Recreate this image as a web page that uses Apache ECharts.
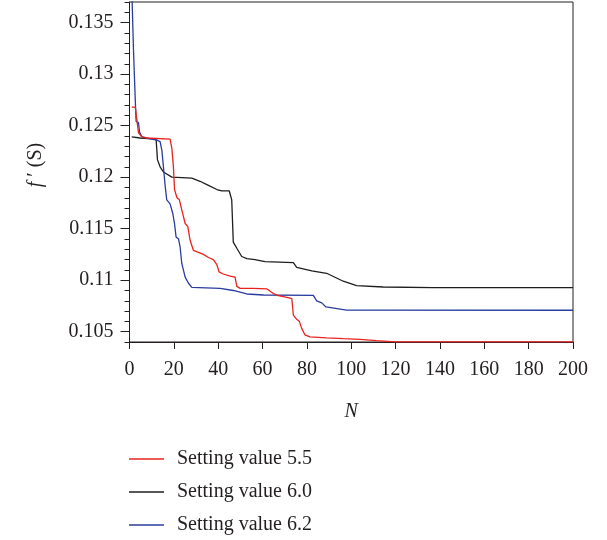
<!DOCTYPE html>
<html>
<head>
<meta charset="utf-8">
<script src="https://cdn.jsdelivr.net/npm/echarts@6/dist/echarts.min.js"></script>
<style>
html,body{margin:0;padding:0;background:#fff;}
#chart{width:607px;height:540px;}
</style>
</head>
<body>
<div id="chart"></div>
<script>
// ---- data ----
const seriesNames = ['Setting value 5.5', 'Setting value 6.0', 'Setting value 6.2'];
const red55 = [[1,0.1268],[2.6,0.1268],[3.3,0.1256],[4.05,0.1243],[5.6,0.1239],[7.8,0.1238],[18.3,0.1237],[19.1,0.1228],[19.8,0.1210],[20.3,0.1188],[21.4,0.1180],[22.5,0.1178],[23.6,0.1168],[25.1,0.1155],[26.3,0.1152],[27.3,0.1139],[28.8,0.1129],[31.1,0.1127],[33.3,0.1125],[35.6,0.1122],[37.8,0.1120],[39.4,0.1115],[40.4,0.1108],[42.3,0.1106],[45.4,0.1104],[47.6,0.1103],[48.4,0.1094],[49.9,0.1092],[55.9,0.1092],[62,0.10915],[64.9,0.1087],[67.1,0.1085],[71.6,0.1083],[73.2,0.1082],[73.9,0.1066],[75.4,0.1062],[76.6,0.1060],[77.7,0.1053],[79.1,0.1047],[81.4,0.1045],[88.9,0.1044],[96.4,0.10432],[103.9,0.10426],[111.4,0.10413],[120,0.10402],[200,0.10401]];
const black60 = [[1,0.1239],[4.8,0.1238],[12.0,0.1237],[12.6,0.1217],[13.8,0.1210],[15.3,0.1205],[19.1,0.1200],[28.1,0.1199],[31.8,0.1196],[35.6,0.1192],[39.4,0.1188],[41.6,0.11866],[45.0,0.11866],[46.1,0.1178],[46.8,0.1137],[48.4,0.1131],[50.6,0.1123],[52.9,0.1121],[56.6,0.1120],[61.1,0.1118],[73.9,0.1117],[75.4,0.11125],[82.2,0.1109],[88.9,0.11067],[96.4,0.1099],[102.4,0.10947],[114.4,0.10934],[136.9,0.10927],[200,0.10927]];
const blue62 = [[1,0.1385],[1.8,0.13235],[2.6,0.1275],[3.0,0.1254],[4.05,0.1253],[4.5,0.1244],[5.6,0.1239],[7.8,0.1238],[12.3,0.1236],[13.8,0.12345],[14.6,0.1226],[15.3,0.1210],[16.1,0.1191],[16.8,0.1178],[18.3,0.1174],[19.5,0.1165],[20.3,0.1155],[21.0,0.1142],[22.1,0.1140],[22.8,0.11325],[23.6,0.1116],[25.1,0.1103],[26.6,0.1097],[28.1,0.1093],[40.9,0.1092],[46.8,0.1090],[52.9,0.10866],[60.4,0.10856],[82.9,0.10853],[84.4,0.1080],[86.7,0.1078],[88.6,0.1074],[97.9,0.1071],[200,0.10708]];
const yMajorTicks = [0.105, 0.11, 0.115, 0.12, 0.125, 0.13, 0.135];
const yMinorTicks = [0.104,0.105,0.106,0.107,0.108,0.109,0.110,0.111,0.112,0.113,0.114,0.115,0.116,0.117,0.118,0.119,0.120,0.121,0.122,0.123,0.124,0.125,0.126,0.127,0.128,0.129,0.130,0.131,0.132,0.133,0.134,0.135,0.136,0.137];
const xTicks = [0, 20, 40, 60, 80, 100, 120, 140, 160, 180, 200];

const FONT = "'Liberation Serif', 'DejaVu Serif', serif";
const TXT = '#231f20';
const colors = ['#e8231e', '#1e1e1e', '#2a3c9f'];

const chart = echarts.init(document.getElementById('chart'), null, {renderer: 'canvas'});
chart.setOption({
  animation: false,
  backgroundColor: '#fff',
  color: colors,
  grid: {left: 129.5, right: 34, top: 2, bottom: 198, show: true, borderColor: '#231f20', borderWidth: 1, backgroundColor: 'transparent'},
  legend: {
    orient: 'vertical', left: 129, top: 449, padding: 0, height: 91,
    icon: 'rect', itemWidth: 35, itemHeight: 1.5, itemGap: 13,
    data: seriesNames,
    textStyle: {fontFamily: FONT, fontSize: 20, color: TXT, lineHeight: 20, padding: [0, 0, 0, 8]}
  },
  xAxis: {
    type: 'value', min: 0, max: 200, interval: 20,
    name: 'N', nameLocation: 'middle', nameGap: 60,
    nameTextStyle: {fontFamily: FONT, fontSize: 20, fontStyle: 'italic', color: TXT},
    axisLine: {lineStyle: {color: '#231f20', width: 1}},
    axisTick: {show: true, inside: false, length: 7, lineStyle: {color: '#231f20'}, customValues: xTicks},
    axisLabel: {fontFamily: FONT, fontSize: 20, color: TXT, margin: 18, customValues: xTicks},
    splitLine: {show: false}
  },
  yAxis: [{
    type: 'value', min: 0.104, max: 0.137,
    name: '{i|f}{n| ′ (S)}', nameLocation: 'middle', nameGap: 84,
    nameTextStyle: {fontFamily: FONT, fontSize: 20, color: TXT, padding: [0, 0, 0, 14],
      rich: {i: {fontFamily: FONT, fontSize: 20, fontStyle: 'italic', color: TXT}, n: {fontFamily: FONT, fontSize: 20, color: TXT}}},
    axisLine: {show: true, lineStyle: {color: '#231f20', width: 1}},
    axisTick: {show: true, inside: false, length: 5, lineStyle: {color: '#231f20'}, customValues: yMinorTicks},
    axisLabel: {show: false},
    splitLine: {show: false}
  }, {
    type: 'value', min: 0.104, max: 0.137, position: 'left', offset: 0,
    axisLine: {show: false},
    axisTick: {show: true, inside: false, length: 9, lineStyle: {color: '#231f20'}, customValues: yMajorTicks},
    axisLabel: {fontFamily: FONT, fontSize: 20, color: TXT, margin: 16, customValues: yMajorTicks,
      formatter: v => String(+v.toFixed(3))},
    splitLine: {show: false}
  }],
  series: [
    {name: seriesNames[0], type: 'line', data: red55, showSymbol: false, symbol: 'none', lineStyle: {width: 1.3, color: colors[0]}, itemStyle: {color: colors[0]}, clip: true, z: 3},
    {name: seriesNames[1], type: 'line', data: black60, showSymbol: false, symbol: 'none', lineStyle: {width: 1.3, color: colors[1]}, itemStyle: {color: colors[1]}, clip: true, z: 2},
    {name: seriesNames[2], type: 'line', data: blue62, showSymbol: false, symbol: 'none', lineStyle: {width: 1.3, color: colors[2]}, itemStyle: {color: colors[2]}, clip: true, z: 2}
  ]
});
</script>
</body>
</html>
